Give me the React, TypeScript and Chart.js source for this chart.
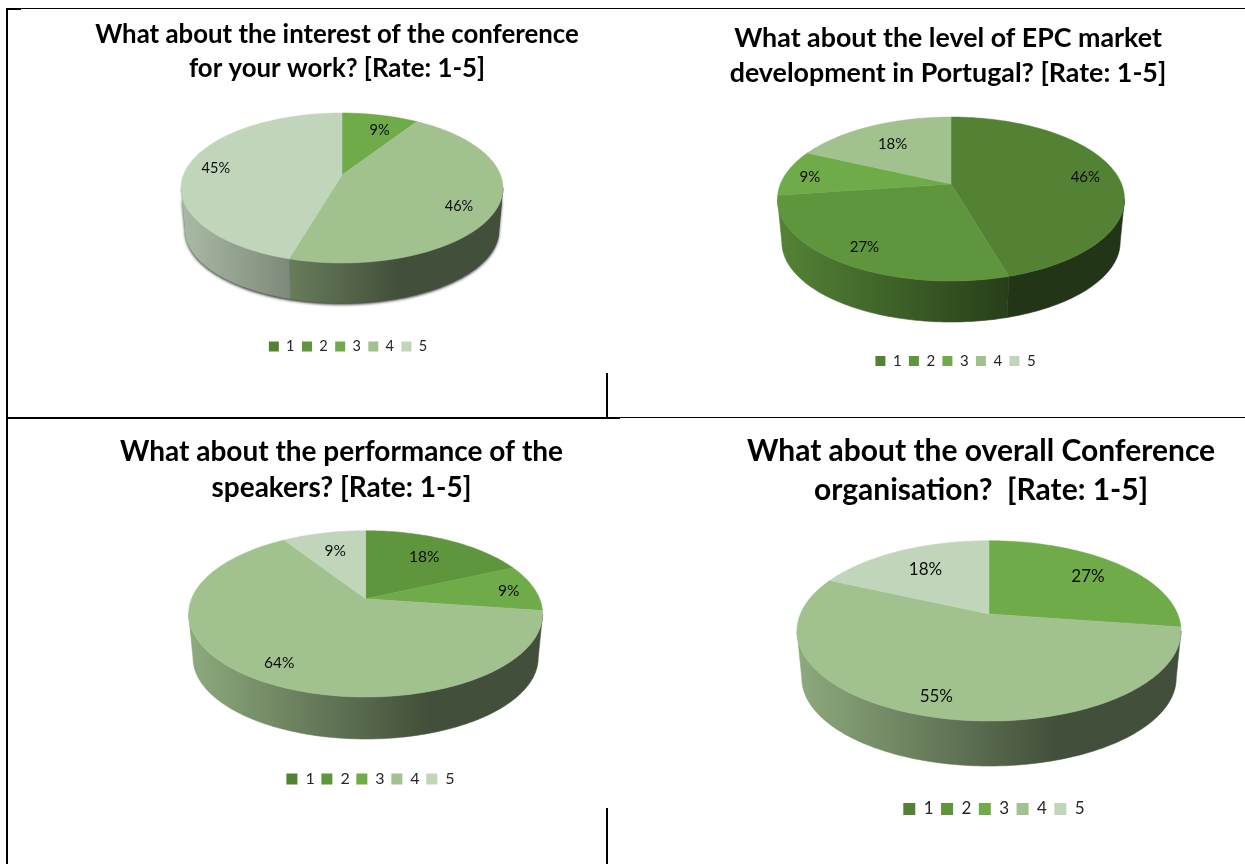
import React, { useEffect, useRef } from "react";
import { Chart, registerables } from "chart.js";

Chart.register(...registerables);

const categories = ["1", "2", "3", "4", "5"];
const sliceColors = ["#548235", "#5f963d", "#6fab49", "#a1c18e", "#c1d5bb"];

const interestValues = [0, 0, 9.1, 45.4, 45.5];
const epcValues = [45.5, 27.3, 9.1, 18.1, 0];
const speakersValues = [0, 18.2, 9.1, 63.6, 9.1];
const organisationValues = [0, 0, 27.3, 54.5, 18.2];

const interestLabels = ["", "", "9%", "46%", "45%"];
const epcLabels = ["46%", "27%", "9%", "18%", ""];
const speakersLabels = ["", "18%", "9%", "64%", "9%"];
const organisationLabels = ["", "", "27%", "55%", "18%"];

const interestTitle = ["What about the interest of the conference", "for your work? [Rate: 1-5]"];
const epcTitle = ["What about the level of EPC market", "development in Portugal? [Rate: 1-5]"];
const speakersTitle = ["What about the performance of the", "speakers? [Rate: 1-5]"];
const organisationTitle = ["What about the overall Conference", "organisation?  [Rate: 1-5]"];

type Panel = {
  values: number[]; labels: string[]; title: string[];
  box: [number, number, number, number];
  apex: [number, number]; rx: number; up: number; down: number; bottom: number;
  titleX: number; titleY: number; titleLine: number; titleSize: number;
  legendX: number; legendY: number; legendFont: number; legendBox: number; legendGap: number;
  labelFont: number; nudges: [number, number][]; shadow?: boolean;
};

const panels: Panel[] = [
  {
    values: interestValues, labels: interestLabels, title: interestTitle, box: [9, 11, 596, 404],
    apex: [342, 175], rx: 161, up: 62, down: 88, bottom: 303,
    titleX: 337, titleY: 35, titleLine: 34, titleSize: 25.8,
    legendX: 348, legendY: 346.5, legendFont: 14.5, legendBox: 10, legendGap: 7.5,
    labelFont: 14.5, nudges: [[0, 0], [0, 0], [6, 5], [-5.5, 6], [-3, 1]], shadow: true,
  },
  {
    values: epcValues, labels: epcLabels, title: epcTitle, box: [620, 11, 625, 404],
    apex: [951, 184], rx: 173.5, up: 67, down: 97, bottom: 322,
    titleX: 948, titleY: 38, titleLine: 35, titleSize: 26.8,
    legendX: 955.5, legendY: 361, legendFont: 15, legendBox: 10, legendGap: 7.3,
    labelFont: 15, nudges: [[2, 2], [-2, 2], [-9, 2], [7, 8], [0, 0]],
  },
  {
    values: speakersValues, labels: speakersLabels, title: speakersTitle, box: [9, 420, 596, 444],
    apex: [365.6, 598.7], rx: 177, up: 68, down: 98.3, bottom: 739,
    titleX: 341.5, titleY: 452, titleLine: 36, titleSize: 28,
    legendX: 370.5, legendY: 779, legendFont: 16, legendBox: 11, legendGap: 6.7,
    labelFont: 15.5, nudges: [[0, 0], [-8.5, 6], [8, 1], [-0.6, 2.4], [4, 6.5]],
  },
  {
    values: organisationValues, labels: organisationLabels, title: organisationTitle, box: [620, 420, 625, 444],
    apex: [989, 614], rx: 192, up: 73.3, down: 107, bottom: 766,
    titleX: 981, titleY: 451, titleLine: 39, titleSize: 30,
    legendX: 994, legendY: 809, legendFont: 17, legendBox: 12, legendGap: 7.4,
    labelFont: 17, nudges: [[0, 0], [0, 0], [-5, 4], [-3, 5], [9, 8]],
  },
];

const WALL_SCALE = 0.975;

function shade(hex: string, m: number) {
  const n = parseInt(hex.slice(1), 16);
  const c = [(n >> 16) & 255, (n >> 8) & 255, n & 255];
  return `rgb(${c[0] * m},${c[1] * m},${c[2] * m})`;
}

function pie3dPlugin(p: Panel) {
  const [ox, oy] = p.box;
  const ax = p.apex[0] - ox;
  const ay = p.apex[1] - oy;
  const ratio = p.down / p.up;
  const k = (ratio - 1) / (ratio + 1);
  const b = p.up * (1 + k);
  const a = p.rx * Math.sqrt(1 - k * k);
  const yScale = b / a;
  const depth = p.bottom - p.apex[1] - p.down * WALL_SCALE;

  const project = (x0: number, y0: number, R: number, phi: number, r = 1): [number, number] => {
    const u = Math.cos(phi);
    const v = Math.sin(phi);
    const w = 1 - k * r * v;
    return [x0 + (R * r * u) / w, y0 + (R * yScale * r * v) / w];
  };
  const wallPoint = (x0: number, y0: number, R: number, phi: number): [number, number] => {
    const [x, y] = project(x0, y0, R, phi);
    return [x0 + (x - x0) * WALL_SCALE, y0 + (y - y0) * WALL_SCALE + depth];
  };
  const right = Math.asin(k);
  const left = Math.PI - right;

  const wallPath = (ctx: CanvasRenderingContext2D, x0: number, y0: number, R: number, s: number, e: number) => {
    const n = Math.max(2, Math.ceil((e - s) / 0.02));
    ctx.beginPath();
    for (let i = 0; i <= n; i++) {
      const [x, y] = project(x0, y0, R, s + ((e - s) * i) / n);
      i ? ctx.lineTo(x, y) : ctx.moveTo(x, y);
    }
    for (let i = n; i >= 0; i--) {
      const [x, y] = wallPoint(x0, y0, R, s + ((e - s) * i) / n);
      ctx.lineTo(x, y);
    }
    ctx.closePath();
  };

  return {
    id: "pie3d",
    afterLayout(chart: any) {
      const area = chart.chartArea;
      area.left = ax - a; area.right = ax + a; area.top = ay - a; area.bottom = ay + a;
      area.width = 2 * a; area.height = 2 * a;
      const t = chart.titleBlock;
      const tw = t.right - t.left;
      t.left = p.titleX - ox - tw / 2; t.right = t.left + tw;
      t.top = p.titleY - oy - p.titleLine / 2; t.bottom = t.top + p.titleLine * 2;
      const l = chart.legend;
      const lw = l.right - l.left;
      const itemH = Math.max(p.legendBox, p.legendFont);
      l.left = p.legendX - ox - lw / 2; l.right = l.left + lw;
      l.top = p.legendY - oy - itemH / 2 - p.legendGap; l.bottom = l.top + itemH + 2 * p.legendGap;
    },
    beforeDatasetDraw(chart: any) {
      const ctx: CanvasRenderingContext2D = chart.ctx;
      const arcs = chart.getDatasetMeta(0).data;
      const { x: x0, y: y0, outerRadius: R } = arcs[0];
      ctx.save();
      if (p.shadow) {
        ctx.save();
        ctx.shadowColor = "rgba(0,0,0,0.85)";
        ctx.shadowBlur = 3;
        ctx.shadowOffsetY = 1.5;
        ctx.fillStyle = "#444";
        wallPath(ctx, x0, y0, R, right, left);
        ctx.fill();
        ctx.restore();
      }
      arcs.forEach((arc: any) => {
        if (arc.endAngle - arc.startAngle <= 0) return;
        const color = arc.options.backgroundColor;
        for (const shift of [0, 2 * Math.PI, -2 * Math.PI]) {
          const s = Math.max(arc.startAngle + shift, right);
          const e = Math.min(arc.endAngle + shift, left);
          if (e <= s) continue;
          const g = ctx.createLinearGradient(x0 - p.rx, 0, x0 + p.rx, 0);
          g.addColorStop(0, shade(color, 0.88));
          g.addColorStop(0.68, shade(color, 0.41));
          g.addColorStop(1, shade(color, 0.41));
          wallPath(ctx, x0, y0, R, s, e);
          ctx.fillStyle = g;
          ctx.strokeStyle = g;
          ctx.lineWidth = 0.6;
          ctx.fill();
          ctx.stroke();
        }
      });
      arcs.forEach((arc: any) => {
        if (arc.endAngle - arc.startAngle <= 0) return;
        const color = arc.options.backgroundColor;
        const n = Math.max(2, Math.ceil((arc.endAngle - arc.startAngle) / 0.02));
        ctx.beginPath();
        ctx.moveTo(x0, y0);
        for (let i = 0; i <= n; i++) {
          const [x, y] = project(x0, y0, R, arc.startAngle + ((arc.endAngle - arc.startAngle) * i) / n);
          ctx.lineTo(x, y);
        }
        ctx.closePath();
        ctx.fillStyle = color;
        ctx.strokeStyle = color;
        ctx.lineWidth = 0.5;
        ctx.fill();
        ctx.stroke();
      });
      ctx.restore();
      return false;
    },
    afterDatasetsDraw(chart: any) {
      const ctx: CanvasRenderingContext2D = chart.ctx;
      const arcs = chart.getDatasetMeta(0).data;
      ctx.save();
      ctx.font = `${p.labelFont}px Lato`;
      ctx.fillStyle = "#0d0d0d";
      ctx.textAlign = "center";
      ctx.textBaseline = "middle";
      arcs.forEach((arc: any, i: number) => {
        const text = p.labels[i];
        if (!text) return;
        const mid = (arc.startAngle + arc.endAngle) / 2;
        const [x, y] = project(arc.x, arc.y, arc.outerRadius, mid, 0.8);
        ctx.fillText(text, x + p.nudges[i][0], y + p.nudges[i][1]);
      });
      ctx.restore();
    },
  };
}

function PiePanel({ panel }: { panel: Panel }) {
  const ref = useRef<HTMLCanvasElement>(null);
  useEffect(() => {
    const chart = new Chart(ref.current as HTMLCanvasElement, {
      type: "pie",
      data: {
        labels: categories,
        datasets: [{ data: panel.values, backgroundColor: sliceColors, borderWidth: 0 }],
      },
      options: {
        responsive: false,
        animation: false,
        events: [],
        plugins: {
          tooltip: { enabled: false },
          title: {
            display: true,
            text: panel.title,
            color: "#000000",
            padding: 0,
            font: { family: "Lato", weight: "bold", size: panel.titleSize, lineHeight: `${panel.titleLine}px` },
          },
          legend: {
            display: true,
            position: "bottom",
            labels: {
              boxWidth: panel.legendBox,
              boxHeight: panel.legendBox,
              padding: panel.legendGap,
              color: "#262626",
              font: { family: "Lato", size: panel.legendFont },
            },
          },
        },
      },
      plugins: [pie3dPlugin(panel)],
    } as any);
    return () => chart.destroy();
  }, [panel]);
  const [x, y, w, h] = panel.box;
  return (
    <canvas
      ref={ref}
      width={w}
      height={h}
      style={{ position: "absolute", left: x, top: y, width: w, height: h, display: "block" }}
    />
  );
}

const rules: [number, number, number, number][] = [
  [7, 8, 1238, 1],
  [7, 8, 14, 2],
  [6, 8, 2, 856],
  [7, 417, 613, 2],
  [620, 417, 625, 1],
  [606, 373, 2, 44],
  [606, 808, 2, 56],
];

export default function App() {
  return (
    <div style={{ position: "absolute", left: 0, top: 0, width: 1245, height: 864, background: "#fff", overflow: "hidden" }}>
      {rules.map(([left, top, width, height], i) => (
        <div key={i} style={{ position: "absolute", left, top, width, height, background: "#000" }} />
      ))}
      {panels.map((panel, i) => (
        <PiePanel key={i} panel={panel} />
      ))}
    </div>
  );
}
